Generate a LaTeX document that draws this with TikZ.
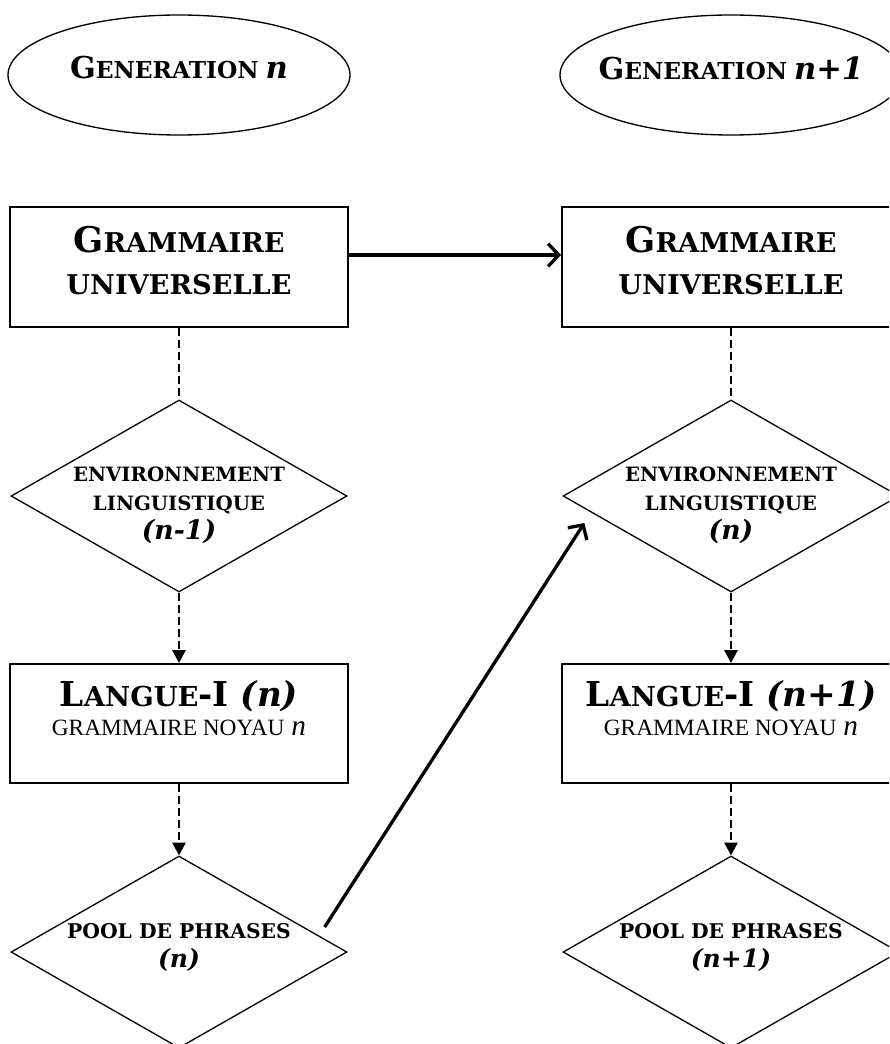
\documentclass[tikz,border=0pt]{standalone}
\usepackage{fontspec}
\setmainfont{DejaVu Serif}
\newfontfamily\timesfont{Liberation Serif}
\usetikzlibrary{positioning, arrows.meta, shapes.geometric}

% taille de police locale
\newcommand{\sz}[2]{{\fontsize{#1}{#1}\selectfont #2}}

\begin{document}
\begin{tikzpicture}[x=0.75pt, y=-0.75pt,
    ovale/.style={draw, ellipse, line width=1pt, minimum width=256.5pt, minimum height=90pt, inner sep=0pt},
    boite/.style={draw, rectangle, line width=1.4pt, minimum width=253.5pt, minimum height=89.5pt, inner sep=0pt},
    losange/.style={draw, diamond, line width=1pt, minimum width=252pt, minimum height=144pt, inner sep=0pt},
    texte/.style={align=center, inner sep=0pt, font=\bfseries\fontsize{14.8}{22}\selectfont},
    lien/.style={line width=1pt, dash pattern=on 6pt off 3pt},
    pointe/.style={-{Triangle[length=9.5pt, width=10pt]}},
    fleche/.style={line width=2.5pt, -{Straight Barb[length=8pt, width=17pt]}}
  ]
  \useasboundingbox (0,0) rectangle (889,1044);
  \clip (0,0) rectangle (889,1044);

  % Generation n
  \node[ovale] (gen1) at (179,75) {};
  \node[texte, below=31.5pt of gen1.north] (gen1t) {\sz{22.6}{G}\sz{17.5}{ENERATION} \sz{23}{\itshape n}};

  \node[boite] (ug1) at (179,267) {};
  \node[texte, below=15pt of ug1.north, font=\bfseries\fontsize{20.4}{31.5}\selectfont] (ug1t)
    {\sz{26.5}{G}RAMMAIRE\\ UNIVERSELLE};

  \node[losange] (env1) at (179,496) {};
  \node[texte, below=50.25pt of env1.north] (env1t)
    {ENVIRONNEMENT\\ LINGUISTIQUE\\ \sz{20}{\itshape (n-1)}};

  \node[boite] (lang1) at (179,723.5) {};
  \node[texte, below=12.75pt of lang1.north, font=\bfseries\fontsize{20.6}{21.75}\selectfont] (lang1t)
    {\sz{25.7}{L}ANGUE\sz{25.7}{-I \itshape(n)}\\
     {\mdseries\timesfont\sz{17.5}{GRAMMAIRE NOYAU} \sz{22}{\itshape n}}};

  \node[losange] (pool1) at (179,952) {};
  \node[texte, below=51pt of pool1.north, font=\bfseries\fontsize{15.2}{21.75}\selectfont] (pool1t)
    {POOL DE PHRASES\\ \sz{18.8}{\itshape (n)}};

  % Generation n+1
  \node[ovale] (gen2) at (731,75) {};
  \node[texte, below=31.5pt of gen2.north] (gen2t) {\sz{22.6}{G}\sz{17.5}{ENERATION} \sz{23}{\itshape n+1}};

  \node[boite] (ug2) at (731,267) {};
  \node[texte, below=15pt of ug2.north, font=\bfseries\fontsize{20.4}{31.5}\selectfont] (ug2t)
    {\sz{26.5}{G}RAMMAIRE\\ UNIVERSELLE};

  \node[losange] (env2) at (731,496) {};
  \node[texte, below=50.25pt of env2.north] (env2t)
    {ENVIRONNEMENT\\ LINGUISTIQUE\\ \sz{20}{\itshape (n)}};

  \node[boite] (lang2) at (731,723.5) {};
  \node[texte, below=12.75pt of lang2.north, font=\bfseries\fontsize{20.6}{21.75}\selectfont] (lang2t)
    {\sz{25.7}{L}ANGUE\sz{25.7}{-I \itshape(n+1)}\\
     {\mdseries\timesfont\sz{17.5}{GRAMMAIRE NOYAU} \sz{22}{\itshape n}}};

  \node[losange] (pool2) at (731,952) {};
  \node[texte, below=51pt of pool2.north, font=\bfseries\fontsize{15.2}{21.75}\selectfont] (pool2t)
    {POOL DE PHRASES\\ \sz{18.8}{\itshape (n+1)}};

  % Liens
  \draw[lien] (ug1.south) -- (env1.north);
  \draw[lien, pointe] (env1.south) -- (lang1.north);
  \draw[lien, pointe] (lang1.south) -- (pool1.north);
  \draw[lien] (ug2.south) -- (env2.north);
  \draw[lien, pointe] (env2.south) -- (lang2.north);
  \draw[lien, pointe] (lang2.south) -- (pool2.north);

  \draw[fleche] ([yshift=9pt]ug1.east) -- ([yshift=9pt]ug2.west);
  \draw[fleche] ([shift={(-23,-25)}]pool1.east) -- ([shift={(22,27)}]env2.west);
\end{tikzpicture}
\end{document}
